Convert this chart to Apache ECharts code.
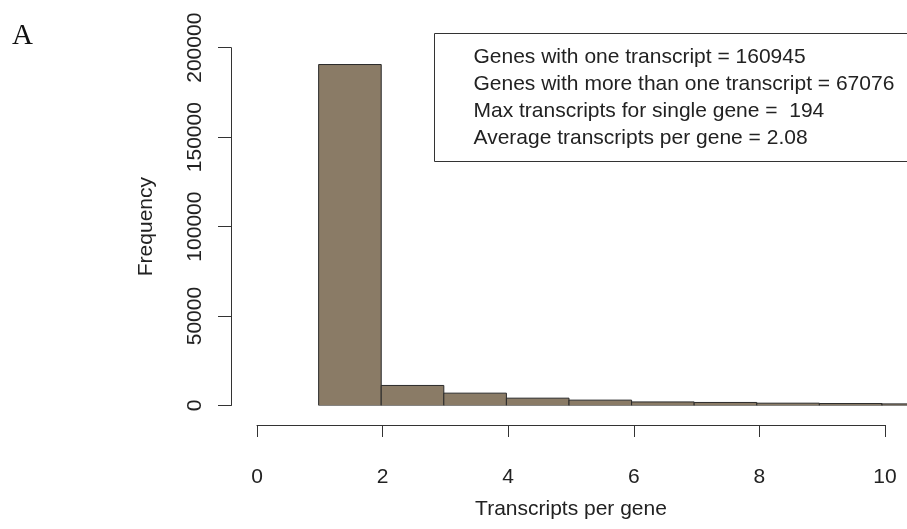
<!DOCTYPE html>
<html>
<head>
<meta charset="utf-8">
<script src="https://cdn.jsdelivr.net/npm/echarts@6/dist/echarts.min.js"></script>
<style>
  html, body { margin: 0; padding: 0; background: #fff; }
  #chart { width: 907px; height: 529px; }
</style>
</head>
<body>
<div id="chart"></div>
<script>
// Histogram bins: [start, end) of transcripts per gene, and gene counts per bin
const binStarts = [1, 2, 3, 4, 5, 6, 7, 8, 9, 10];
const binWidth = 1;
const binCounts = [190600, 11200, 6900, 4100, 3000, 2000, 1700, 1300, 1100, 900];

// Axis ticks
const yTicks = [0, 50000, 100000, 150000, 200000];
const xTicks = [0, 2, 4, 6, 8, 10];

// Summary lines in the boxed legend
const summaryLines = [
  'Genes with one transcript = 160945',
  'Genes with more than one transcript = 67076',
  'Max transcripts for single gene =  194',
  'Average transcripts per gene = 2.08'
];

const panelLetter = 'A';
const xTitle = 'Transcripts per gene';
const yTitle = 'Frequency';

const SANS = '"Liberation Sans", Arial, Helvetica, sans-serif';
const INK = '#222';
const AXIS = '#333';

const histData = binStarts.map((s, i) => [s, s + binWidth, binCounts[i]]);

const chart = echarts.init(document.getElementById('chart'), null, { renderer: 'canvas' });

chart.setOption({
  backgroundColor: '#fff',
  animation: false,
  grid: [
    // plotting region (x from -0.4 to 10.4)
    { left: 231, top: 47.7, width: 679, bottom: 123.5 },
    // separate, offset x axis spanning 0..10
    { left: 257, width: 628, top: 420, height: 5 }
  ],
  xAxis: [
    { gridIndex: 0, type: 'value', min: -0.4, max: 10.4, show: false },
    {
      gridIndex: 1, type: 'value', position: 'bottom',
      min: xTicks[0], max: xTicks[xTicks.length - 1], interval: 2,
      axisLine: { show: true, onZero: false, lineStyle: { color: AXIS, width: 1 } },
      axisTick: { show: true, length: 12, lineStyle: { color: AXIS, width: 1 } },
      axisLabel: { show: true, margin: 42, color: INK, fontSize: 21, fontFamily: SANS,
                   formatter: v => String(v) },
      splitLine: { show: false },
      name: xTitle, nameLocation: 'middle', nameGap: 74,
      nameTextStyle: { color: INK, fontSize: 21, fontFamily: SANS }
    }
  ],
  yAxis: [
    {
      gridIndex: 0, type: 'value', position: 'left',
      min: yTicks[0], max: yTicks[yTicks.length - 1], interval: 50000,
      axisLine: { show: true, onZero: false, lineStyle: { color: AXIS, width: 1 } },
      axisTick: { show: true, length: 13, lineStyle: { color: AXIS, width: 1 } },
      axisLabel: { show: true, rotate: 90, margin: 25, color: INK, fontSize: 21, fontFamily: SANS,
                   formatter: v => String(v) },
      splitLine: { show: false },
      name: yTitle, nameLocation: 'middle', nameRotate: 90, nameGap: 74,
      nameTextStyle: { color: INK, fontSize: 21, fontFamily: SANS }
    },
    { gridIndex: 1, type: 'value', min: 0, max: 1, show: false }
  ],
  series: [
    {
      type: 'custom',
      xAxisIndex: 0, yAxisIndex: 0,
      data: histData,
      clip: true,
      renderItem: function (params, api) {
        const p0 = api.coord([api.value(0), api.value(2)]);
        const p1 = api.coord([api.value(1), 0]);
        return {
          type: 'rect',
          shape: { x: p0[0], y: p0[1], width: p1[0] - p0[0], height: p1[1] - p0[1] },
          style: { fill: '#8a7b66', stroke: '#2a2a2a', lineWidth: 1 }
        };
      },
      silent: true
    },
    { type: 'line', xAxisIndex: 1, yAxisIndex: 1, data: [], silent: true }
  ],
  graphic: [
    {
      type: 'text', left: 12, top: 22,
      style: { text: panelLetter, font: '29px "Liberation Serif", "Times New Roman", serif', fill: '#111' }
    },
    {
      type: 'group', left: 434, top: 33,
      children: [
        {
          type: 'rect',
          shape: { x: 0, y: 0, width: 520, height: 128 },
          style: { fill: '#fff', stroke: AXIS, lineWidth: 1 }
        },
        {
          type: 'text', x: 39, y: 10.5,
          style: { text: summaryLines.join('\n'), font: '21px ' + SANS, lineHeight: 27, fill: INK,
                   verticalAlign: 'top' }
        }
      ]
    }
  ]
});
</script>
</body>
</html>
